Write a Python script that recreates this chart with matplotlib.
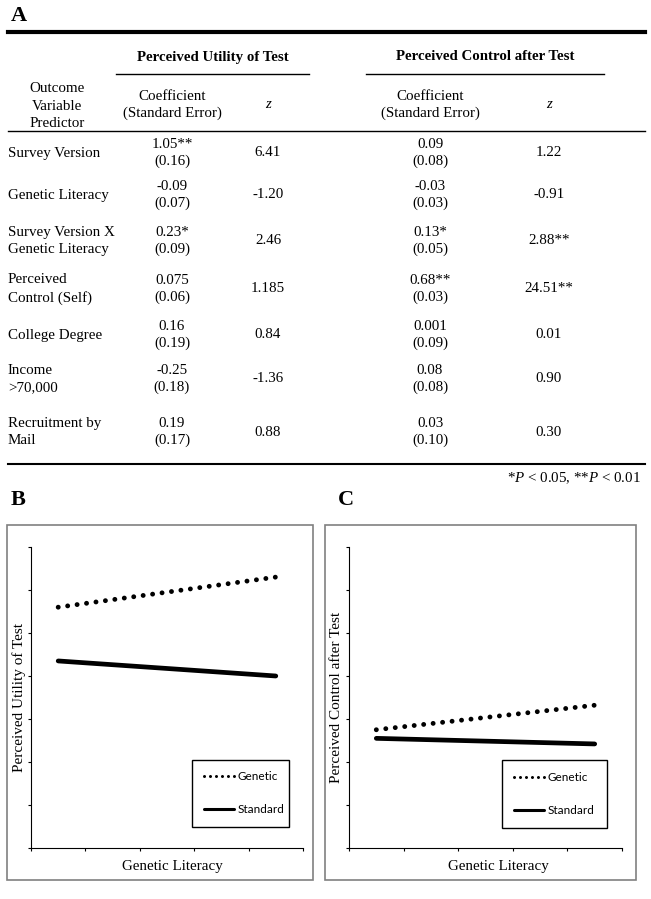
import matplotlib
matplotlib.use("Agg")
import matplotlib.pyplot as plt
from matplotlib.patches import Rectangle

plt.rcParams['font.family'] = 'Liberation Serif'
plt.rcParams['mathtext.fontset'] = 'custom'
plt.rcParams['mathtext.rm'] = 'Liberation Serif'
plt.rcParams['mathtext.it'] = 'Liberation Serif:italic'

# table A
predictors = ["Survey Version", "Genetic Literacy", "Survey Version X\nGenetic Literacy",
              "Perceived\nControl (Self)", "College Degree", "Income\n>70,000",
              "Recruitment by\nMail"]
util_coef = ["1.05**", "-0.09", "0.23*", "0.075", "0.16", "-0.25", "0.19"]
util_se = ["(0.16)", "(0.07)", "(0.09)", "(0.06)", "(0.19)", "(0.18)", "(0.17)"]
util_z = ["6.41", "-1.20", "2.46", "1.185", "0.84", "-1.36", "0.88"]
ctrl_coef = ["0.09", "-0.03", "0.13*", "0.68**", "0.001", "0.08", "0.03"]
ctrl_se = ["(0.08)", "(0.03)", "(0.05)", "(0.03)", "(0.09)", "(0.08)", "(0.10)"]
ctrl_z = ["1.22", "-0.91", "2.88**", "24.51**", "0.01", "0.90", "0.30"]

# panels B and C
literacy = [0.5, 4.5]
util_genetic = [5.6, 6.3]
util_standard = [4.35, 4.0]
ctrl_genetic = [2.75, 3.32]
ctrl_standard = [2.55, 2.42]


def main():
	W, H = 651, 899
	fig = plt.figure(figsize=(W / 100, H / 100), dpi=100)

	tab = fig.add_axes([0, 0, 1, 1])
	tab.set_xlim(0, W)
	tab.set_ylim(H, 0)
	tab.axis('off')

	fs = 10.8
	ls = 1.4
	tab.text(11, 16, "A", fontsize=16, fontweight='bold', va='center')
	tab.plot([8, 645], [32, 32], color='black', lw=3)
	tab.text(213, 57, "Perceived Utility of Test", fontsize=10.7, fontweight='bold', ha='center', va='center')
	tab.text(485, 57, "Perceived Control after Test", fontsize=10.7, fontweight='bold', ha='center', va='center')
	tab.plot([116, 309], [74, 74], color='black', lw=1)
	tab.plot([366, 604], [74, 74], color='black', lw=1)
	tab.text(57, 106, "Outcome\nVariable\nPredictor", fontsize=fs, ha='center', va='center', linespacing=1.45)
	for cx, zx in [(172, 268), (430, 549)]:
		tab.text(cx, 105, "Coefficient\n(Standard Error)", fontsize=fs, ha='center', va='center', linespacing=ls)
		tab.text(zx, 105, "z", fontsize=fs, fontstyle='italic', ha='center', va='center')
	tab.plot([8, 645], [131, 131], color='black', lw=1)

	row_y = [153, 195, 241, 289, 335, 379, 432]
	for i, y in enumerate(row_y):
		tab.text(8, y, predictors[i], fontsize=fs, ha='left', va='center', linespacing=ls)
		tab.text(172, y, util_coef[i] + "\n" + util_se[i], fontsize=fs, ha='center', va='center', linespacing=ls)
		tab.text(268, y, util_z[i], fontsize=fs, ha='center', va='center')
		tab.text(430, y, ctrl_coef[i] + "\n" + ctrl_se[i], fontsize=fs, ha='center', va='center', linespacing=ls)
		tab.text(549, y, ctrl_z[i], fontsize=fs, ha='center', va='center')
	tab.plot([8, 645], [464, 464], color='black', lw=1.5)
	tab.text(641, 478, r"*$\mathit{P}$ < 0.05, **$\mathit{P}$ < 0.01", fontsize=fs, ha='right', va='center')

	tab.text(11, 500, "B", fontsize=16, fontweight='bold', va='center')
	tab.text(338, 500, "C", fontsize=16, fontweight='bold', va='center')

	# panel frames
	for x0, x1 in [(7, 313), (325, 636)]:
		tab.add_patch(Rectangle((x0, 525), x1 - x0, 880 - 525, fill=False, edgecolor='#808080', lw=1.2))

	panels = [
		(31, 303, "Perceived Utility of Test", util_genetic, util_standard,
		 (0.57, 0.05, 0.40, 0.226), -0.018, 0.52),
		(349, 622, "Perceived Control after Test", ctrl_genetic, ctrl_standard,
		 (0.538, 0.047, 0.43, 0.22), -0.022, 0.546),
	]
	for x0, x1, ylabel, gen, std, leg_box, ylab_x, xlab_x in panels:
		ax = fig.add_axes([x0 / W, (H - 848) / H, (x1 - x0) / W, 301 / H])
		ax.set_xlim(0, 5)
		ax.set_ylim(0, 7)
		ax.set_xticks(range(6))
		ax.set_yticks(range(8))
		ax.set_xticklabels([])
		ax.set_yticklabels([])
		ax.tick_params(length=2.5, width=0.8)
		ax.spines['top'].set_visible(False)
		ax.spines['right'].set_visible(False)
		ax.patch.set_alpha(0)

		ax.plot(literacy, gen, color='black', lw=3.5, linestyle=(0, (0.01, 1.95)),
				dash_capstyle='round', label="Genetic")
		ax.plot(literacy, std, color='black', lw=3.4, solid_capstyle='round', label="Standard")

		ax.set_ylabel(ylabel, fontsize=11)
		ax.yaxis.set_label_coords(ylab_x, 0.5)
		ax.set_xlabel("Genetic Literacy", fontsize=10.8)
		ax.xaxis.set_label_coords(xlab_x, -0.04)

		leg = ax.legend(loc='lower left', bbox_to_anchor=leg_box, mode='expand',
						prop={'family': 'Lato', 'size': 8.5}, handlelength=2.6,
						handletextpad=0.25, labelspacing=1.85, borderpad=1.0,
						fancybox=False, edgecolor='black', framealpha=1)
		leg.get_frame().set_linewidth(1.0)
		for h in leg.get_lines():
			h.set_linewidth(2.2)

	fig.savefig("out.png", dpi=100)


if __name__ == '__main__':
	main()
